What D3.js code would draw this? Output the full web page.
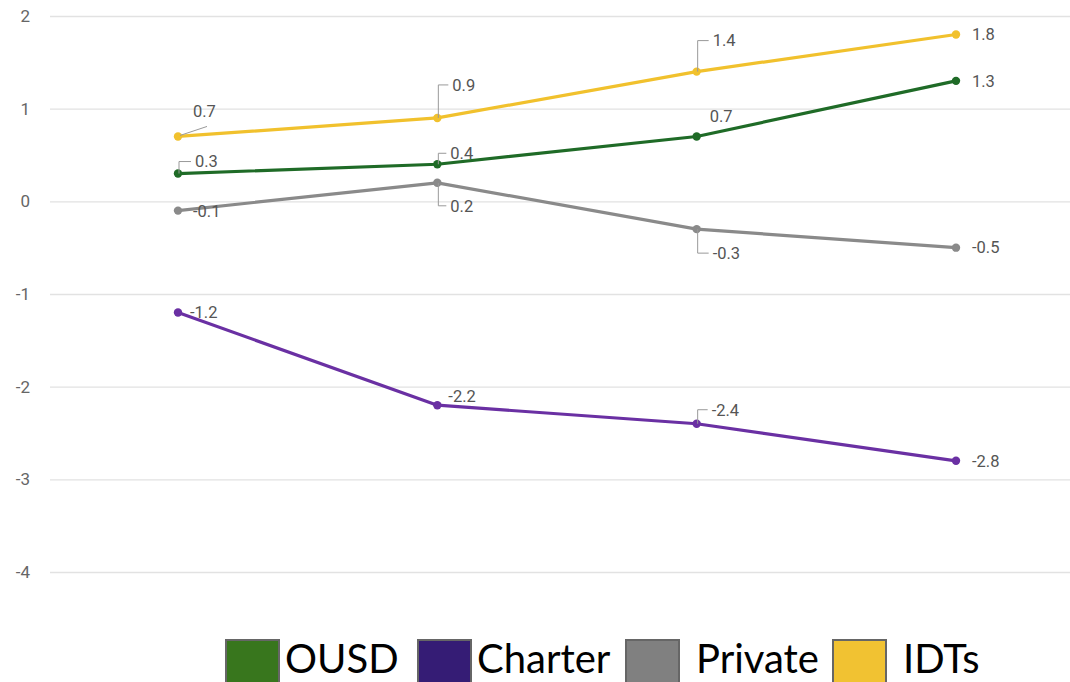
<!DOCTYPE html>
<html>
<head>
<meta charset="utf-8">
<script src="https://cdn.jsdelivr.net/npm/d3@7"></script>
<style>
  html, body { margin: 0; padding: 0; background: #fff; }
  svg { display: block; }
</style>
</head>
<body>
<svg id="chart" width="1070" height="682"></svg>
<script>
// Series values, one entry per period
const periods = ["P1", "P2", "P3", "P4"];
const seriesNames = ["OUSD", "Charter", "Private", "IDTs"];
const ousd = [0.3, 0.4, 0.7, 1.3];
const charter = [-1.2, -2.2, -2.4, -2.8];
const privateSchools = [-0.1, 0.2, -0.3, -0.5];
const idts = [0.7, 0.9, 1.4, 1.8];
const yTicks = [2, 1, 0, -1, -2, -3, -4];

const series = [
  { name: "OUSD", values: ousd, line: "#1f6b27", swatch: "#38761d" },
  { name: "Charter", values: charter, line: "#6a30a3", swatch: "#351c75" },
  { name: "Private", values: privateSchools, line: "#8a8a8a", swatch: "#808080" },
  { name: "IDTs", values: idts, line: "#f1c12d", swatch: "#f1c232" }
];

// Label placement per series/point: offset of the text from the point,
// and whether a bent leader line connects them.
const labelLayout = {
  OUSD:    [{dx: 17, dy: -12, leader: "up"}, {dx: 13, dy: -11, leader: "up"}, {dx: 13, dy: -20}, {dx: 16, dy: 0}],
  Charter: [{dx: 12, dy: 0}, {dx: 11, dy: -9}, {dx: 15, dy: -14, leader: "up"}, {dx: 16, dy: 0}],
  Private: [{dx: 15, dy: 1}, {dx: 13, dy: 23, leader: "down"}, {dx: 16, dy: 24, leader: "down"}, {dx: 16, dy: 0}],
  IDTs:    [{dx: 15, dy: -25, leader: "diag"}, {dx: 15, dy: -33, leader: "up"}, {dx: 16, dy: -31, leader: "up"}, {dx: 16, dy: 0}]
};

// Plain hyphen-minus for negatives
const fmt = v => d3.format(".1f")(v).replace("\u2212", "-");

const svg = d3.select("#chart");
const W = 1070;

const x = d3.scalePoint().domain(periods).range([178, 956]);
const y = d3.scaleLinear().domain([-4, 2]).range([572, 16]);

// Horizontal gridlines and y tick labels
const yAxis = d3.axisLeft(y).tickValues(yTicks).tickSize(-(W - 50)).tickPadding(20)
  .tickFormat(d => String(d));
const gy = svg.append("g").attr("transform", "translate(50,0)").call(yAxis);
gy.select(".domain").remove();
gy.selectAll(".tick line").attr("stroke", "#e2e2e2").attr("stroke-width", 1.3);
gy.selectAll(".tick text")
  .attr("fill", "#666").attr("font-family", "Roboto, 'Liberation Sans', sans-serif")
  .attr("font-size", 17).attr("x", -20);

const line = d3.line().x((d, i) => x(periods[i])).y(d => y(d));

const gSeries = svg.append("g");
series.forEach(s => {
  const g = gSeries.append("g");
  g.append("path").datum(s.values)
    .attr("d", line).attr("fill", "none")
    .attr("stroke", s.line).attr("stroke-width", 3.2).attr("stroke-linejoin", "round");
  g.selectAll("circle").data(s.values).join("circle")
    .attr("cx", (d, i) => x(periods[i])).attr("cy", d => y(d))
    .attr("r", 4.2).attr("fill", s.line);
});

// Data labels with leader lines
const gLabels = svg.append("g");
series.forEach(s => {
  s.values.forEach((v, i) => {
    const px = x(periods[i]), py = y(v);
    const L = labelLayout[s.name][i];
    const tx = px + L.dx, ty = py + L.dy;
    if (L.leader === "up" || L.leader === "down") {
      gLabels.append("path")
        .attr("d", `M${px + 1},${py} L${px + 1},${ty} L${tx - 4},${ty}`)
        .attr("fill", "none").attr("stroke", "#999").attr("stroke-width", 1);
    } else if (L.leader === "diag") {
      gLabels.append("path")
        .attr("d", `M${px + 2},${py - 1} L${tx + 14},${ty + 15}`)
        .attr("fill", "none").attr("stroke", "#999").attr("stroke-width", 1);
    }
    gLabels.append("text")
      .attr("x", tx).attr("y", ty).attr("dy", "0.35em")
      .attr("fill", "#555").attr("font-family", "Roboto, 'Liberation Sans', sans-serif")
      .attr("font-size", 16.5)
      .text(fmt(v));
  });
});

// Legend
const legendX = [226, 418, 626, 833];
const legend = svg.append("g");
series.forEach((s, i) => {
  const g = legend.append("g").attr("transform", `translate(${legendX[i]},640)`);
  g.append("rect").attr("x", 0).attr("y", 0).attr("width", 53).attr("height", 46)
    .attr("fill", s.swatch).attr("stroke", "#666").attr("stroke-width", 2);
  g.append("text").attr("x", s.name === "OUSD" || s.name === "Charter" ? 59 : 70).attr("y", 33)
    .attr("fill", "#000").attr("font-family", "Lato, 'Open Sans', sans-serif")
    .attr("font-size", 40).text(s.name);
});
</script>
</body>
</html>
